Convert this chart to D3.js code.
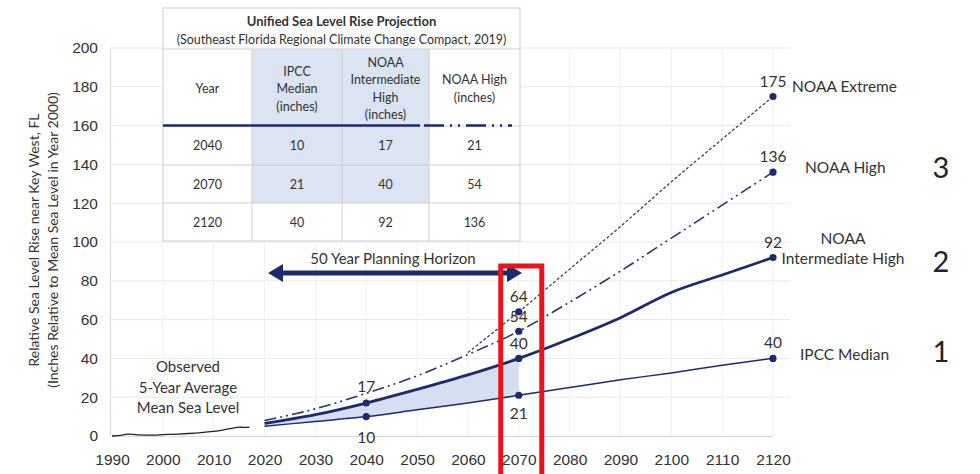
<!DOCTYPE html>
<html>
<head>
<meta charset="utf-8">
<script src="https://cdn.jsdelivr.net/npm/d3@7"></script>
<style>
  body { margin: 0; background: #fff; }
  svg { font-family: Lato, "Open Sans", sans-serif; }
  .tick text { fill: #333; font-size: 15.5px; }
</style>
</head>
<body>
<div id="chart"></div>
<script>
// data
var projYears   = [2020, 2030, 2040, 2050, 2060, 2070, 2080, 2090, 2100, 2110, 2120];
var ipccMedian  = [5, 7.5, 10, 13.5, 17, 21, 25, 29, 32.5, 36.5, 40];
var intHigh     = [6.5, 11, 17, 24, 31.5, 40, 50, 61, 74, 83, 92];
var noaaHigh    = [8, 14, 22, 31, 42, 54, 69, 85, 102, 119, 136];
var noaaExtreme = [null, null, null, null, 43, 64, 86, 108, 131, 153, 175];

var obsYears = [1990, 1992, 1993, 1995, 1998, 2000, 2003, 2005, 2008, 2010, 2012, 2014, 2015, 2016, 2017];
var obsLevel = [0, 0.4, 1, 0.6, 0.5, 0.7, 1, 1.3, 1.9, 2.4, 3.2, 4.2, 4.6, 4.4, 4.5];

var xTicks = [1990, 2000, 2010, 2020, 2030, 2040, 2050, 2060, 2070, 2080, 2090, 2100, 2110, 2120];
var yTicks = [0, 20, 40, 60, 80, 100, 120, 140, 160, 180, 200];

// table
var tableTitle = "Unified Sea Level Rise Projection";
var tableSub   = "(Southeast Florida Regional Climate Change Compact, 2019)";
var tableYears = [2040, 2070, 2120];
var tableIpcc  = [10, 21, 40];
var tableInt   = [17, 40, 92];
var tableHigh  = [21, 54, 136];

var navy = "#1c2a6e";

var svg = d3.select("#chart")
  .append("svg")
  .attr("width", 980)
  .attr("height", 474);

// scales
var x = d3.scaleLinear().domain([1990, 2120]).range([112, 773]);
var y = d3.scaleLinear().domain([0, 200]).range([436, 48]);

// gridlines
var grid = svg.append("g");
grid.selectAll("line.h")
  .data(yTicks.slice(1))
  .enter().append("line")
  .attr("x1", 110).attr("x2", 790)
  .attr("y1", d => y(d)).attr("y2", d => y(d))
  .attr("stroke", "#e9e9e9").attr("stroke-width", 1);
grid.selectAll("line.v")
  .data(xTicks.slice(1))
  .enter().append("line")
  .attr("x1", d => x(d)).attr("x2", d => x(d))
  .attr("y1", 48).attr("y2", 436)
  .attr("stroke", "#f1f1f1").attr("stroke-width", 1);

// axes
var bottomAxis = d3.axisBottom(x).tickValues(xTicks).tickFormat(d3.format("d")).tickSize(0).tickPadding(18);
var leftAxis = d3.axisLeft(y).tickValues(yTicks).tickSize(0).tickPadding(12);

svg.append("g")
  .attr("transform", "translate(0, 436)")
  .call(bottomAxis)
  .call(g => g.select(".domain").attr("stroke", "#d9d9d9"));

svg.append("g")
  .attr("transform", "translate(110, 0)")
  .call(leftAxis)
  .call(g => g.select(".domain").attr("stroke", "#d9d9d9"));

// y axis title
var yTitle = svg.append("text")
  .attr("transform", "translate(39, 240) rotate(-90)")
  .attr("text-anchor", "middle")
  .attr("fill", "#333")
  .style("font-size", "14px");
yTitle.append("tspan").attr("x", 0).attr("dy", 0).text("Relative Sea Level Rise near Key West, FL");
yTitle.append("tspan").attr("x", 0).attr("dy", 19).text("(Inches Relative to Mean Sea Level in Year 2000)");

// table of projections
var tbl = svg.append("g");
var colX = [163, 252, 342, 429, 520];
var rowY = [8, 49, 126, 165, 203, 241];

tbl.append("rect")
  .attr("x", colX[0]).attr("y", rowY[0])
  .attr("width", colX[4] - colX[0]).attr("height", rowY[5] - rowY[0])
  .attr("fill", "#fff").attr("stroke", "#cfcfcf");
tbl.append("rect")
  .attr("x", colX[1]).attr("y", rowY[1])
  .attr("width", colX[3] - colX[1]).attr("height", rowY[4] - rowY[1])
  .attr("fill", "#dce3f2");

// cell borders
tbl.selectAll("line.row")
  .data(rowY.slice(1, 5))
  .enter().append("line")
  .attr("x1", colX[0]).attr("x2", colX[4])
  .attr("y1", d => d).attr("y2", d => d)
  .attr("stroke", "#cfcfcf");
tbl.selectAll("line.col")
  .data(colX.slice(1, 4))
  .enter().append("line")
  .attr("x1", d => d).attr("x2", d => d)
  .attr("y1", rowY[1]).attr("y2", rowY[5])
  .attr("stroke", "#cfcfcf");

// the 160 line that runs across the header
tbl.append("line")
  .attr("x1", colX[0]).attr("x2", 420)
  .attr("y1", y(160)).attr("y2", y(160))
  .attr("stroke", navy).attr("stroke-width", 2.5);
tbl.append("line")
  .attr("x1", 424).attr("x2", 512)
  .attr("y1", y(160)).attr("y2", y(160))
  .attr("stroke", navy).attr("stroke-width", 2.5)
  .attr("stroke-dasharray", "20,6,2,6,2,6");

tbl.append("text")
  .attr("x", (colX[0] + colX[4]) / 2).attr("y", 26)
  .attr("text-anchor", "middle").attr("fill", "#333")
  .style("font-size", "13px").style("font-weight", "bold")
  .text(tableTitle);
tbl.append("text")
  .attr("x", (colX[0] + colX[4]) / 2).attr("y", 44)
  .attr("text-anchor", "middle").attr("fill", "#333")
  .style("font-size", "12.5px")
  .text(tableSub);

var headers = [
  ["Year"],
  ["IPCC", "Median", "(inches)"],
  ["NOAA", "Intermediate", "High", "(inches)"],
  ["NOAA High", "(inches)"]
];
headers.forEach(function(lines, i) {
  var cx = (colX[i] + colX[i + 1]) / 2;
  var top = 93 - (lines.length - 1) * 17.5 / 2;
  lines.forEach(function(l, j) {
    tbl.append("text")
      .attr("x", cx).attr("y", top + j * 17.5)
      .attr("text-anchor", "middle").attr("fill", "#333")
      .style("font-size", "12.5px")
      .text(l);
  });
});

tableYears.forEach(function(yr, r) {
  var cy = (rowY[r + 2] + rowY[r + 3]) / 2 + 4.5;
  [yr, tableIpcc[r], tableInt[r], tableHigh[r]].forEach(function(v, i) {
    tbl.append("text")
      .attr("x", (colX[i] + colX[i + 1]) / 2).attr("y", cy)
      .attr("text-anchor", "middle").attr("fill", "#333")
      .style("font-size", "12.5px")
      .text(v);
  });
});

// shaded band between IPCC median and intermediate high up to 2070
var bandIdx = d3.range(0, projYears.indexOf(2070) + 1);
svg.append("path")
  .datum(bandIdx)
  .attr("fill", "#d6dff1")
  .attr("d", d3.area()
    .x(i => x(projYears[i]))
    .y0(i => y(ipccMedian[i]))
    .y1(i => y(intHigh[i]))
    .curve(d3.curveMonotoneX));

// projection lines
function lineFor(vals) {
  return d3.line()
    .defined(i => vals[i] != null)
    .x(i => x(projYears[i]))
    .y(i => y(vals[i]))
    .curve(d3.curveMonotoneX)(d3.range(projYears.length));
}

svg.append("path")
  .attr("d", lineFor(noaaExtreme))
  .attr("fill", "none").attr("stroke", "#3a4170").attr("stroke-width", 1.3)
  .attr("stroke-dasharray", "3,2");
svg.append("path")
  .attr("d", lineFor(noaaHigh))
  .attr("fill", "none").attr("stroke", "#2a3568").attr("stroke-width", 1.6)
  .attr("stroke-dasharray", "12,4,2,4,2,4");
svg.append("path")
  .attr("d", lineFor(ipccMedian))
  .attr("fill", "none").attr("stroke", navy).attr("stroke-width", 1.5);
svg.append("path")
  .attr("d", lineFor(intHigh))
  .attr("fill", "none").attr("stroke", navy).attr("stroke-width", 2.8);

// observed
svg.append("path")
  .datum(d3.range(obsYears.length))
  .attr("fill", "none").attr("stroke", "#222").attr("stroke-width", 1.3)
  .attr("d", d3.line()
    .x(i => x(obsYears[i]))
    .y(i => y(obsLevel[i]))
    .curve(d3.curveMonotoneX));

var obsText = svg.append("text")
  .attr("text-anchor", "middle").attr("fill", "#333")
  .style("font-size", "15px");
["Observed", "5-Year Average", "Mean Sea Level"].forEach(function(t, j) {
  obsText.append("tspan").attr("x", 188).attr("y", 372 + j * 20.5).text(t);
});

// markers and value labels
var marks = [];
var pick = function(yr, vals, dy) {
  var i = projYears.indexOf(yr);
  marks.push({ yr: yr, v: vals[i], dy: dy });
};
pick(2040, ipccMedian, 20);
pick(2040, intHigh, -11);
pick(2070, ipccMedian, 18);
pick(2070, intHigh, -9);
pick(2070, noaaHigh, -9);
pick(2070, noaaExtreme, -10);
pick(2120, ipccMedian, -10);
pick(2120, intHigh, -10);
pick(2120, noaaHigh, -10);
pick(2120, noaaExtreme, -10);

svg.selectAll("circle.mk")
  .data(marks)
  .enter().append("circle")
  .attr("cx", d => x(d.yr)).attr("cy", d => y(d.v))
  .attr("r", 3.6).attr("fill", navy);

svg.selectAll("text.val")
  .data(marks)
  .enter().append("text")
  .attr("x", d => x(d.yr)).attr("y", d => y(d.v) + d.dy + (d.dy > 0 ? 6 : 0))
  .attr("text-anchor", "middle").attr("fill", "#333")
  .style("font-size", "15.5px")
  .text(d => d.v);

// series names on the right
var names = [
  { t: ["NOAA Extreme"], x: 792, y: 92, a: "start" },
  { t: ["NOAA High"], x: 805, y: 173, a: "start" },
  { t: ["NOAA", "Intermediate High"], x: 843, y: 244, a: "middle" },
  { t: ["IPCC Median"], x: 800, y: 360, a: "start" }
];
names.forEach(function(n) {
  n.t.forEach(function(t, j) {
    svg.append("text")
      .attr("x", n.x).attr("y", n.y + j * 20)
      .attr("text-anchor", n.a).attr("fill", "#333")
      .style("font-size", "15.5px")
      .text(t);
  });
});

[["3", 178], ["2", 272], ["1", 362]].forEach(function(n) {
  svg.append("text")
    .attr("x", 941).attr("y", n[1])
    .attr("text-anchor", "middle").attr("fill", "#222")
    .style("font-size", "29px")
    .text(n[0]);
});

// planning horizon arrow
svg.append("text")
  .attr("x", 393).attr("y", 264)
  .attr("text-anchor", "middle").attr("fill", "#333")
  .style("font-size", "15px")
  .text("50 Year Planning Horizon");

var ay = 273;
svg.append("line")
  .attr("x1", 280).attr("x2", 510)
  .attr("y1", ay).attr("y2", ay)
  .attr("stroke", navy).attr("stroke-width", 5);
svg.append("path")
  .attr("d", `M268,${ay} L283,${ay - 9} L283,${ay + 9} Z`)
  .attr("fill", navy);
svg.append("path")
  .attr("d", `M522,${ay} L507,${ay - 9} L507,${ay + 9} Z`)
  .attr("fill", navy);

// red box round 2070
svg.append("rect")
  .attr("x", x(2070) - 18).attr("y", 266)
  .attr("width", 41).attr("height", 230)
  .attr("fill", "none").attr("stroke", "#e8141b").attr("stroke-width", 5);
</script>
</body>
</html>
